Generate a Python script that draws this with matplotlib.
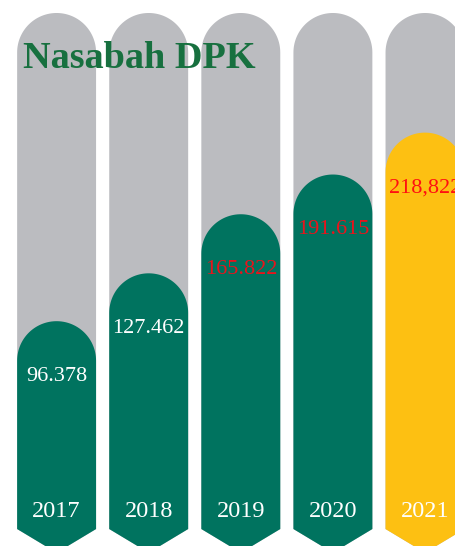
import matplotlib
matplotlib.use("Agg")
import matplotlib.pyplot as plt
from matplotlib.patches import Polygon
import numpy as np

# data
years = ["2017", "2018", "2019", "2020", "2021"]
nasabah = [96.378, 127.462, 165.822, 191.615, 218.822]
value_labels = ["96.378", "127.462", "165.822", "191.615", "218,822"]
bar_colors = ["#00735f", "#00735f", "#00735f", "#00735f", "#fdc012"]
label_colors = ["white", "white", "#e8141c", "#e8141c", "#ff1010"]

GRAY = "#bbbcc0"
TRACK_TOP = 296.5      # top of the grey background tracks
BOTTOM = -38.6         # where the chevron starts
TIP = -54.0            # chevron tip
WIDTH = 0.857
PX_X = 92.1            # pixels per x unit
PX_Y = 1.54            # pixels per y unit


def rounded_bar(ax, x, top, color, z):
    half = WIDTH / 2
    ry = half * PX_X / PX_Y   # keep the cap a circle on screen
    t = np.linspace(0, np.pi, 60)
    cap_x = x + half * np.cos(t)
    cap_y = top - ry + ry * np.sin(t)
    xs = np.concatenate([[x + half], cap_x, [x - half, x - half, x, x + half]])
    ys = np.concatenate([[BOTTOM], cap_y, [top - ry, BOTTOM, TIP, BOTTOM]])
    ax.add_patch(Polygon(np.column_stack([xs, ys]), closed=True,
                         facecolor=color, edgecolor="none", zorder=z))


fig = plt.figure(figsize=(4.56, 5.46), dpi=100)
ax = fig.add_axes([0, 0, 1, 1])
ax.set_xlim(-56.6 / PX_X, (456 - 56.6) / PX_X)
ax.set_ylim(-(546 - 469.6) / PX_Y, 469.6 / PX_Y)
ax.axis("off")

for i, (v, c) in enumerate(zip(nasabah, bar_colors)):
    rounded_bar(ax, i, TRACK_TOP, GRAY, 1)
    rounded_bar(ax, i, v, c, 2)

# value labels sit inside the cap
for i, (v, lab, lc) in enumerate(zip(nasabah, value_labels, label_colors)):
    ax.text(i, v - 36, lab, ha="center", va="center", color=lc,
            fontsize=16, family="Liberation Serif", zorder=3)

for i, y in enumerate(years):
    ax.text(i, -27, y, ha="center", va="center", color="white",
            fontsize=17.5, family="Liberation Serif", zorder=3)

fig.text(23 / 456, 1 - 58 / 546, "Nasabah DPK", ha="left", va="center",
         color="#17703f", fontsize=27.5, fontweight="bold",
         family="Liberation Serif", zorder=5)

fig.savefig("out.png", dpi=100)
